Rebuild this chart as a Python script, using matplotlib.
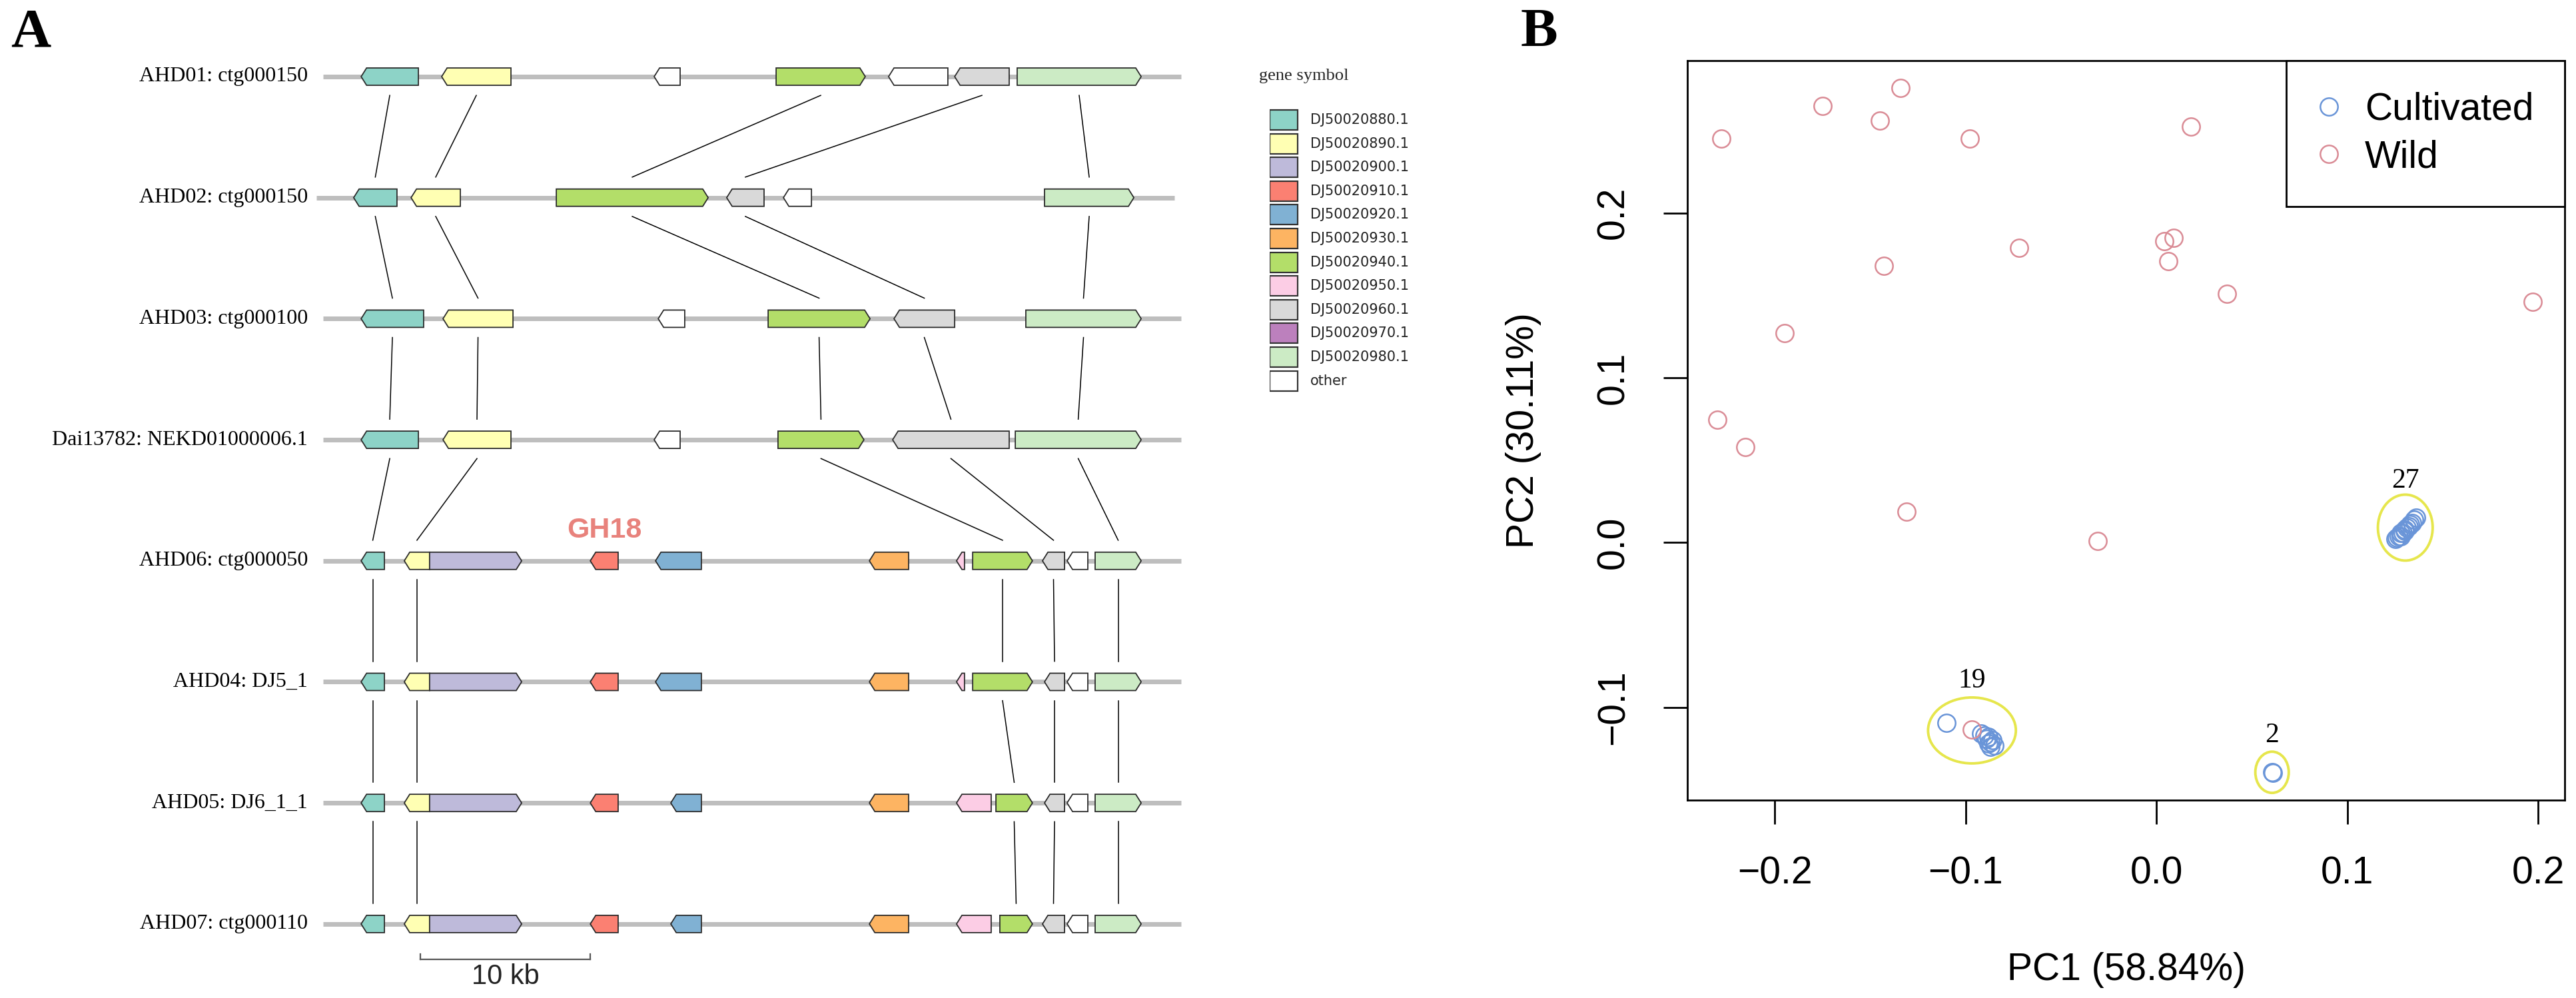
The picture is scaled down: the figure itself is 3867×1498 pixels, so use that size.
import matplotlib
matplotlib.use("Agg")
import matplotlib.pyplot as plt
from matplotlib.patches import Polygon, Rectangle, Ellipse

SERIF = "Liberation Serif"
SANS = "Liberation Sans"

# ---------------- panel A: gene neighbourhoods (positions in kb) ----------------
gene_symbols = ["DJ50020880.1", "DJ50020890.1", "DJ50020900.1", "DJ50020910.1",
                "DJ50020920.1", "DJ50020930.1", "DJ50020940.1", "DJ50020950.1",
                "DJ50020960.1", "DJ50020970.1", "DJ50020980.1", "other"]
gene_colors = ["#8DD3C7", "#FFFFB3", "#BEBADA", "#FB8072", "#80B1D3", "#FDB462",
               "#B3DE69", "#FCCDE5", "#D9D9D9", "#BC80BD", "#CCEBC5", "#FFFFFF"]

row_labels = ["AHD01: ctg000150", "AHD02: ctg000150", "AHD03: ctg000100",
              "Dai13782: NEKD01000006.1", "AHD06: ctg000050", "AHD04: DJ5_1",
              "AHD05: DJ6_1_1", "AHD07: ctg000110"]
track_start = [0.0, -0.4, 0.0, 0.0, 0.0, 0.0, 0.0, 0.0]
track_end = [50.5, 50.1, 50.5, 50.5, 50.5, 50.5, 50.5, 50.5]

# (symbol, start, end, strand)
genes_ahd01 = [("DJ50020880.1", 2.24, 5.61, -1), ("DJ50020890.1", 6.98, 11.06, -1),
               ("other", 19.49, 21.02, -1), ("DJ50020940.1", 26.67, 31.92, 1),
               ("other", 33.29, 36.78, -1), ("DJ50020960.1", 37.18, 40.39, -1),
               ("DJ50020980.1", 40.86, 48.16, 1)]
genes_ahd02 = [("DJ50020880.1", 1.80, 4.35, -1), ("DJ50020890.1", 5.18, 8.08, -1),
               ("DJ50020940.1", 13.73, 22.67, 1), ("DJ50020960.1", 23.76, 25.96, -1),
               ("other", 27.10, 28.75, -1), ("DJ50020980.1", 42.47, 47.73, 1)]
genes_ahd03 = [("DJ50020880.1", 2.24, 5.92, -1), ("DJ50020890.1", 7.06, 11.18, -1),
               ("other", 19.73, 21.29, -1), ("DJ50020940.1", 26.20, 32.20, 1),
               ("DJ50020960.1", 33.61, 37.18, -1), ("DJ50020980.1", 41.37, 48.16, 1)]
genes_dai13782 = [("DJ50020880.1", 2.24, 5.61, -1), ("DJ50020890.1", 7.06, 11.06, -1),
                  ("other", 19.49, 21.02, -1), ("DJ50020940.1", 26.78, 31.84, 1),
                  ("DJ50020960.1", 33.53, 40.39, -1), ("DJ50020980.1", 40.75, 48.16, 1)]
genes_ahd06 = [("DJ50020880.1", 2.24, 3.61, -1), ("DJ50020890.1", 4.78, 6.27, -1),
               ("DJ50020900.1", 6.27, 11.69, 1), ("DJ50020910.1", 15.73, 17.37, -1),
               ("DJ50020920.1", 19.57, 22.27, -1), ("DJ50020930.1", 32.16, 34.47, -1),
               ("DJ50020950.1", 37.29, 37.76, -1), ("DJ50020940.1", 38.24, 41.76, 1),
               ("DJ50020960.1", 42.35, 43.65, -1), ("other", 43.80, 45.02, -1),
               ("DJ50020980.1", 45.45, 48.16, 1)]
genes_ahd04 = [("DJ50020880.1", 2.24, 3.61, -1), ("DJ50020890.1", 4.78, 6.27, -1),
               ("DJ50020900.1", 6.27, 11.69, 1), ("DJ50020910.1", 15.73, 17.37, -1),
               ("DJ50020920.1", 19.57, 22.27, -1), ("DJ50020930.1", 32.16, 34.47, -1),
               ("DJ50020950.1", 37.29, 37.76, -1), ("DJ50020940.1", 38.24, 41.76, 1),
               ("DJ50020960.1", 42.47, 43.65, -1), ("other", 43.80, 45.02, -1),
               ("DJ50020980.1", 45.45, 48.16, 1)]
genes_ahd05 = [("DJ50020880.1", 2.24, 3.61, -1), ("DJ50020890.1", 4.78, 6.27, -1),
               ("DJ50020900.1", 6.27, 11.69, 1), ("DJ50020910.1", 15.73, 17.37, -1),
               ("DJ50020920.1", 20.47, 22.27, -1), ("DJ50020930.1", 32.16, 34.47, -1),
               ("DJ50020950.1", 37.29, 39.33, -1), ("DJ50020940.1", 39.61, 41.76, 1),
               ("DJ50020960.1", 42.47, 43.65, -1), ("other", 43.80, 45.02, -1),
               ("DJ50020980.1", 45.45, 48.16, 1)]
genes_ahd07 = [("DJ50020880.1", 2.24, 3.61, -1), ("DJ50020890.1", 4.78, 6.27, -1),
               ("DJ50020900.1", 6.27, 11.69, 1), ("DJ50020910.1", 15.73, 17.37, -1),
               ("DJ50020920.1", 20.47, 22.27, -1), ("DJ50020930.1", 32.16, 34.47, -1),
               ("DJ50020950.1", 37.29, 39.33, -1), ("DJ50020940.1", 39.84, 41.76, 1),
               ("DJ50020960.1", 42.35, 43.65, -1), ("other", 43.80, 45.02, -1),
               ("DJ50020980.1", 45.45, 48.16, 1)]

# genes joined by lines between neighbouring tracks
linked_symbols = ["DJ50020880.1", "DJ50020890.1", "DJ50020940.1",
                  "DJ50020960.1", "DJ50020980.1"]
highlight_symbol = "DJ50020910.1"
highlight_text = "GH18"
scalebar_start = 5.73
scalebar_kb = 10

# ---------------- panel B: PCA ----------------
wild_pc1 = [-0.228, -0.175, -0.145, -0.134, -0.098, 0.018, -0.072, -0.143, 0.004,
            0.009, 0.006, 0.037, 0.197, -0.195, -0.230, -0.2155, -0.131, -0.031, -0.0967]
wild_pc2 = [0.245, 0.265, 0.256, 0.276, 0.245, 0.2525, 0.179, 0.168, 0.183,
            0.185, 0.171, 0.151, 0.146, 0.127, 0.0747, 0.058, 0.0186, 0.0008, -0.1135]
cult_pc1 = [0.125, 0.126, 0.127, 0.128, 0.128, 0.129, 0.130, 0.130, 0.131, 0.132,
            0.133, 0.134, 0.135, 0.136,
            -0.110, -0.092, -0.090, -0.089, -0.088, -0.087, -0.086, -0.085, -0.087, -0.088,
            0.0605, 0.061]
cult_pc2 = [0.002, 0.003, 0.004, 0.004, 0.006, 0.006, 0.007, 0.008, 0.009, 0.010,
            0.011, 0.012, 0.014, 0.015,
            -0.1095, -0.116, -0.117, -0.119, -0.118, -0.121, -0.120, -0.123, -0.124, -0.122,
            -0.1394, -0.1396]
cluster_labels = ["27", "19", "2"]
cluster_pc1 = [0.1303, -0.0967, 0.0605]
cluster_pc2 = [0.0091, -0.114, -0.1394]
cluster_w = [0.0287, 0.046, 0.0175]
cluster_h = [0.040, 0.040, 0.025]
cluster_label_pc2 = [0.0376, -0.0840, -0.117]

W, H, DPI = 3867, 1498, 100
fig = plt.figure(figsize=(W / DPI, H / DPI), dpi=DPI)

# ---- panel A ----
px_per_kb = 25.5
row_px = 181.7
ax_a = fig.add_axes([0, 0, 2250 / W, 1])
ax_a.set_xlim(-485 / px_per_kb, (2250 - 485) / px_per_kb)
ax_a.set_ylim((H - 115) / row_px, -115 / row_px)
ax_a.axis("off")

tracks = [genes_ahd01, genes_ahd02, genes_ahd03, genes_dai13782,
          genes_ahd06, genes_ahd04, genes_ahd05, genes_ahd07]
color_of = dict(zip(gene_symbols, gene_colors))
gene_h = 0.143
head = 0.32


def gene_points(start, end, strand, y):
    hd = min(head, end - start)
    top, bot = y - gene_h / 2, y + gene_h / 2
    if strand > 0:
        return [(start, top), (end - hd, top), (end, y), (end - hd, bot), (start, bot)]
    return [(end, top), (start + hd, top), (start, y), (start + hd, bot), (end, bot)]


for r, genes in enumerate(tracks):
    ax_a.plot([track_start[r], track_end[r]], [r, r], color="#BEBEBE", lw=5,
              solid_capstyle="butt", zorder=1)
    ax_a.text(-0.9, r, row_labels[r], ha="right", va="center", fontsize=23,
              family=SERIF)
    for sym, s, e, strand in genes:
        ax_a.add_patch(Polygon(gene_points(s, e, strand, r), closed=True,
                               facecolor=color_of[sym], edgecolor="#2b2b2b",
                               lw=1.3, zorder=3))
        if sym == highlight_symbol and r == 4:
            ax_a.text((s + e) / 2, r - 0.253, highlight_text, ha="center",
                      va="center", fontsize=31, fontweight="bold",
                      color="#E8827C", family=SANS)

# link lines between consecutive tracks
for r in range(len(tracks) - 1):
    upper = {g[0]: (g[1] + g[2]) / 2 for g in tracks[r]}
    lower = {g[0]: (g[1] + g[2]) / 2 for g in tracks[r + 1]}
    for sym in linked_symbols:
        if sym in upper and sym in lower:
            ax_a.plot([upper[sym], lower[sym]], [r + 0.155, r + 1 - 0.17],
                      color="black", lw=1.1, zorder=2)

# scale bar
sb_y = 7.292
ax_a.plot([scalebar_start, scalebar_start + scalebar_kb], [sb_y, sb_y],
          color="#555555", lw=1.6)
for xx in (scalebar_start, scalebar_start + scalebar_kb):
    ax_a.plot([xx, xx], [sb_y, sb_y - 0.045], color="#555555", lw=1.6)
ax_a.text(scalebar_start + scalebar_kb / 2, 7.435, "%d kb" % scalebar_kb,
          ha="center", va="center", fontsize=30, family=SANS, color="#222222")

# legend for gene symbols
entry_px = 35.6
first_px = 180
ax_l = fig.add_axes([1906 / W, 1 - 620 / H, 300 / W, 470 / H])
ax_l.set_xlim(0, 300 / 42)
ax_l.set_ylim((620 - first_px) / entry_px, (150 - first_px) / entry_px)
ax_l.axis("off")
for i, (sym, col) in enumerate(zip(gene_symbols, gene_colors)):
    ax_l.add_patch(Rectangle((0, i - 0.42), 1, 0.84, facecolor=col,
                             edgecolor="#333333", lw=1.6))
    ax_l.text(1.45, i, sym, ha="left", va="center", fontsize=15,
              family="DejaVu Sans", color="#222222")
fig.text(1890 / W, 1 - 114 / H, "gene symbol", ha="left", va="center",
         fontsize=19, family=SERIF, color="#222222")

fig.text(16 / W, 1 - 12 / H, "A", ha="left", va="top", fontsize=60,
         fontweight="bold", family=SERIF)
fig.text(2283 / W, 1 - 12 / H, "B", ha="left", va="top", fontsize=60,
         fontweight="bold", family=SERIF)

# ---- panel B ----
ax_b = fig.add_axes([2533 / W, 1 - 1201 / H, (3850 - 2533) / W, (1201 - 91) / H])
ax_b.set_xlim(-0.2458, 0.2138)
ax_b.set_ylim(-0.1563, 0.2925)
ax_b.plot(cult_pc1, cult_pc2, "o", ms=19, mfc="none", mec="#6A95D8", mew=1.8,
          label="Cultivated")
ax_b.plot(wild_pc1, wild_pc2, "o", ms=19, mfc="none", mec="#DA8C96", mew=1.8,
          label="Wild")
for lab, cx, cy, w, h, ly in zip(cluster_labels, cluster_pc1, cluster_pc2,
                                 cluster_w, cluster_h, cluster_label_pc2):
    ax_b.add_patch(Ellipse((cx, cy), w, h, facecolor="none", edgecolor="#E4E43A",
                           lw=2.8, alpha=0.9, zorder=4))
    ax_b.text(cx, ly, lab, ha="center", va="center", fontsize=30, family=SERIF)

ax_b.set_xticks([-0.2, -0.1, 0.0, 0.1, 0.2])
ax_b.set_yticks([-0.1, 0.0, 0.1, 0.2])
ax_b.tick_params(direction="out", length=26, width=2, labelsize=41, pad=34)
for lbl in ax_b.get_xticklabels() + ax_b.get_yticklabels():
    lbl.set_family(SANS)
for lbl in ax_b.get_yticklabels():
    lbl.set_rotation(90)
    lbl.set_va("center")
for sp in ax_b.spines.values():
    sp.set_linewidth(2)
ax_b.set_xlabel("PC1 (58.84%)", fontsize=41, family=SANS)
ax_b.set_ylabel("PC2 (30.11%)", fontsize=41, family=SANS)
ax_b.xaxis.set_label_coords(0.5, -0.2297)
ax_b.xaxis.label.set_va("center")
ax_b.yaxis.set_label_coords(-0.1868, 0.5)
ax_b.yaxis.label.set_va("center")

leg = ax_b.legend(loc="upper right", bbox_to_anchor=(1, 1), borderaxespad=0,
                  fancybox=False, framealpha=1, edgecolor="black",
                  prop={"family": SANS, "size": 41}, borderpad=0.82,
                  handlelength=0.6, handletextpad=0.65, labelspacing=0.31)
leg.get_frame().set_linewidth(2)

fig.savefig("out.png", dpi=DPI)
